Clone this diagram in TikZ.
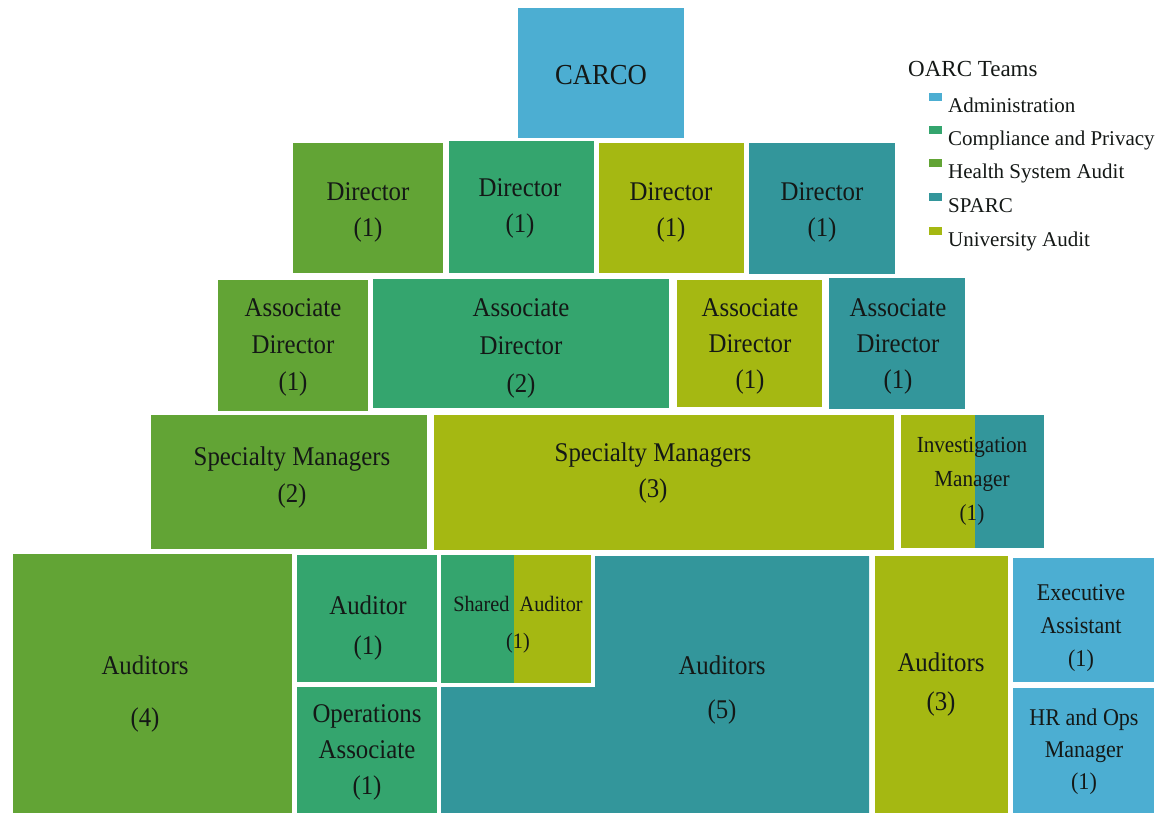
\documentclass[tikz,border=0pt]{standalone}
\usepackage{fontspec}
\setmainfont[FakeStretch=0.92]{Liberation Serif}
\newfontfamily\legfont{Liberation Serif}
\definecolor{adm}{RGB}{76,174,210}
\definecolor{cmp}{RGB}{52,165,110}
\definecolor{hsa}{RGB}{98,164,53}
\definecolor{spa}{RGB}{51,150,155}
\definecolor{uni}{RGB}{165,184,18}
\definecolor{txt}{RGB}{20,24,22}
\newcommand\myfs[2]{\fontsize{#1}{#2}\selectfont}
\begin{document}
\begin{tikzpicture}[x=1pt,y=-1pt,
  lbl/.style={align=center, text=txt, inner sep=0pt},
  leg/.style={anchor=base west, text=txt, inner sep=0pt, font=\legfont\myfs{21}{25}},
  swatch/.style={inner sep=0pt, minimum width=13pt, minimum height=8pt, anchor=north west}]
\useasboundingbox[fill=white] (0,0) rectangle (1168,813);

% ---- boxes ----
\fill[adm] (518,8) rectangle (684,138);
% directors
\fill[hsa] (293,143) rectangle (443,273);
\fill[cmp] (449,141) rectangle (594,273);
\fill[uni] (599,143) rectangle (744,273);
\fill[spa] (749,143) rectangle (895,274);
% associate directors
\fill[hsa] (218,280) rectangle (368,411);
\fill[cmp] (373,279) rectangle (669,408);
\fill[uni] (677,280) rectangle (822,407);
\fill[spa] (829,278) rectangle (965,409);
% specialty managers
\fill[hsa] (151,415) rectangle (427,549);
\fill[uni] (434,415) rectangle (894,550);
\fill[uni] (901,415) rectangle (975,548);
\fill[spa] (975,415) rectangle (1044,548);
% bottom row
\fill[hsa] (13,554) rectangle (292,813);
\fill[cmp] (297,555) rectangle (437,682);
\fill[cmp] (297,687) rectangle (437,813);
\fill[cmp] (441,555) rectangle (514,683);
\fill[uni] (514,555) rectangle (591,683);
\fill[spa] (595,556) -- (869,556) -- (869,813) -- (441,813) -- (441,687) -- (595,687) -- cycle;
\fill[uni] (875,556) rectangle (1008,813);
\fill[adm] (1013,558) rectangle (1154,682);
\fill[adm] (1013,688) rectangle (1154,813);

% ---- labels ----
\node[lbl, font=\myfs{29}{32}] (carco) at (601,75) {CARCO};
\node[lbl, font=\myfs{27}{36}] (d1) at (368,212) {Director\\(1)};
\node[lbl, font=\myfs{27}{36}] (d2) at (520,208) {Director\\(1)};
\node[lbl, font=\myfs{27}{36}] (d3) at (671,212) {Director\\(1)};
\node[lbl, font=\myfs{27}{36}] (d4) at (822,212) {Director\\(1)};
\node[lbl, font=\myfs{27}{37}] (ad1) at (293,347) {Associate\\Director\\(1)};
\node[lbl, font=\myfs{27}{38}] (ad2) at (521,348) {Associate\\Director\\(2)};
\node[lbl, font=\myfs{27}{36}] (ad3) at (750,346) {Associate\\Director\\(1)};
\node[lbl, font=\myfs{27}{36}] (ad4) at (898,346) {Associate\\Director\\(1)};
\node[lbl, font=\myfs{27}{37}] (sm1) at (292,478) {Specialty Managers\\(2)};
\node[lbl, font=\myfs{27}{36}] (sm2) at (653,473) {Specialty Managers\\(3)};
\node[lbl, font=\myfs{23}{34}] (inv) at (972,481) {Investigation\\Manager\\(1)};
\node[lbl, font=\myfs{27}{52}] (a4) at (145,694) {Auditors\\(4)};
\node[lbl, font=\myfs{27}{40}] (a1) at (368,628) {Auditor\\(1)};
\node[lbl, font=\myfs{27}{36}] (ops) at (367,752) {Operations\\Associate\\(1)};
\node[lbl, font=\myfs{22}{37}] (shared) at (518,625) {Shared\ \ Auditor\\(1)};
\node[lbl, font=\myfs{27}{44}] (a5) at (722,690) {Auditors\\(5)};
\node[lbl, font=\myfs{27}{39}] (a3) at (941,685) {Auditors\\(3)};
\node[lbl, font=\myfs{24}{33}] (exec) at (1081,628) {Executive\\Assistant\\(1)};
\node[lbl, font=\myfs{24}{32}] (hr) at (1084,752) {HR and Ops\\Manager\\(1)};

% ---- legend ----
\node[anchor=base west, text=txt, inner sep=0pt, font=\legfont\myfs{23}{26}] (legtitle) at (908,77) {OARC Teams};
\node[swatch, fill=adm] (s1) at (929,93) {};
\node[swatch, fill=cmp] (s2) at (929,126) {};
\node[swatch, fill=hsa] (s3) at (929,159) {};
\node[swatch, fill=spa] (s4) at (929,193) {};
\node[swatch, fill=uni] (s5) at (929,227) {};
\node[leg] (l1) at (948,113) {Administration};
\node[leg] (l2) at (948,146) {Compliance and Privacy};
\node[leg] (l3) at (948,179) {Health System Audit};
\node[leg] (l4) at (948,213) {SPARC};
\node[leg] (l5) at (948,247) {University Audit};
\end{tikzpicture}
\end{document}
